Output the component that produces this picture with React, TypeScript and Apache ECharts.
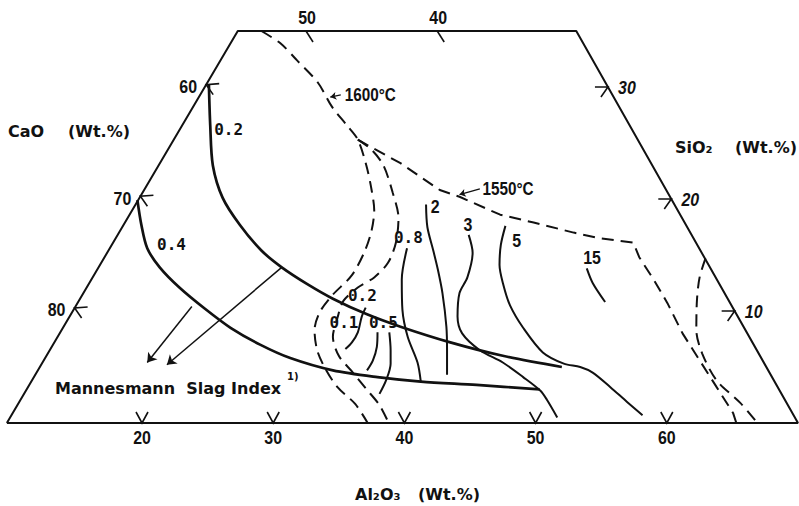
import React, { useEffect, useRef } from "react";
import * as echarts from "echarts";

type P = number[];

// All points are compositions: [Al2O3 wt%, SiO2 wt%] (CaO = 100 - Al2O3 - SiO2)
const frame: P[] = [[9.7, 0], [9.8, 35], [35.6, 35], [70, 0], [9.7, 0]];

const al2o3Ticks = [20, 30, 40, 50, 60];
const caoLeftTicks = [80, 70, 60];
const sio2Ticks = [10, 20, 30];
const caoTopTicks = [50, 40];

// Mannesmann slag index curves
const msi02: P[] = [[10.0, 30.2], [11.9, 26.6], [13.9, 23.0], [16.1, 20.1], [18.6, 17.7], [21.4, 15.4], [23.7, 13.9], [26.4, 12.4], [29.0, 11.1], [32.3, 9.7], [35.4, 8.6], [39.9, 7.2], [44.5, 6.0], [49.5, 5.0]];
const msi04: P[] = [[9.7, 19.9], [11.1, 17.7], [12.6, 15.6], [14.4, 13.9], [16.8, 12.1], [19.7, 10.2], [22.5, 8.5], [25.5, 7.0], [28.4, 5.8], [32.2, 4.7], [35.9, 4.1], [39.4, 3.7], [43.8, 3.4], [48.8, 3.0]];

// iso-lines (solid)
const iso08: P[] = [[32.4, 15.6], [33.4, 12.8], [34.8, 10.1], [36.4, 7.7], [38.3, 5.4], [39.4, 3.7]];
const iso2: P[] = [[31.9, 19.5], [33.0, 17.5], [34.5, 15.4], [35.7, 13.7], [37.1, 11.6], [38.9, 8.6], [40.0, 6.5], [41.1, 4.3]];
const iso3: P[] = [[36.5, 16.8], [37.6, 15.2], [38.3, 13.0], [38.4, 11.6], [39.3, 9.5], [40.4, 8.0], [42.5, 6.5], [44.8, 5.4], [47.0, 4.1], [48.9, 2.9], [49.8, 2.1], [51.4, 0.5]];
const iso5: P[] = [[38.9, 17.6], [39.4, 15.9], [40.2, 14.1], [41.4, 12.3], [42.8, 10.5], [44.8, 8.5], [47.4, 6.3], [49.5, 5.3], [50.9, 5.0], [52.1, 4.5], [54.1, 3.2], [56.0, 1.9], [57.8, 0.7]];
const iso15: P[] = [[47.0, 13.8], [48.1, 12.5], [49.9, 10.8]];
const iso01: P[] = [[31.9, 10.3], [32.0, 9.5], [32.4, 8.1], [32.4, 7.2], [32.2, 6.6]];
const iso02: P[] = [[33.9, 8.1], [34.5, 6.8], [34.8, 5.6], [34.8, 4.7]];
const iso05: P[] = [[34.8, 8.1], [35.7, 6.5], [36.3, 5.3], [36.7, 3.8], [36.8, 2.6]];

// liquidus boundaries (dashed)
const liq1600: P[] = [[11.6, 35], [13.6, 33.9], [15.6, 32.4], [18.2, 30.4], [20.4, 28.2], [22.3, 26.6], [23.8, 25.3], [25.6, 23.0], [27.1, 20.8], [28.2, 19.0], [28.9, 17.2], [29.3, 15.4], [29.4, 13.2], [28.8, 11.4], [28.6, 9.9], [29.0, 8.3], [30.1, 6.5], [31.5, 4.9], [33.3, 3.2], [35.4, 1.7], [37.2, 0]];
const liqInner: P[] = [[23.8, 25.3], [25.3, 24.4], [26.9, 23.0], [28.8, 20.6], [30.4, 18.3], [31.3, 16.1], [31.6, 14.3], [31.2, 13.0], [30.4, 12.1], [29.9, 10.9], [30.2, 9.4], [30.7, 7.7], [32.0, 6.0], [33.7, 4.6], [35.5, 3.1], [37.3, 1.6], [38.8, 0]];
const liq1550: P[] = [[23.8, 25.3], [25.0, 24.7], [28.1, 23.2], [32.3, 20.8], [34.1, 20.2], [38.0, 18.6], [40.9, 17.9], [44.4, 17.0], [46.6, 16.5], [49.4, 16.1], [50.5, 14.8], [52.6, 12.8], [54.7, 10.7], [57.2, 8.0], [59.7, 5.6], [62.2, 3.2], [64.6, 0.9], [65.3, 0]];
const liqRight: P[] = [[55.6, 14.7], [56.0, 13.0], [56.8, 11.0], [58.1, 8.3], [59.6, 6.2], [61.9, 3.8], [64.7, 1.8], [66.9, 0]];

// pointer arrows [from, to]
const msiArrows: P[][] = [[[18.6, 10.4], [17.7, 5.4]], [[23.7, 13.9], [19.3, 5.2]]];
const tempArrows: P[][] = [[[20.5, 29.3], [19.8, 29.1]], [[35.3, 20.9], [34.0, 20.4]]];

// annotation anchors
const indexLabels = [
  { t: "0.2", p: [13.5, 26.2] }, { t: "0.4", p: [14.3, 15.9] }, { t: "0.8", p: [32.0, 16.6] },
  { t: "0.2", p: [31.1, 11.4] }, { t: "0.1", p: [30.9, 9.0] }, { t: "0.5", p: [33.9, 9.0] },
];
const isoLabels = [
  { t: "2", p: [32.7, 19.3] }, { t: "3", p: [36.0, 17.7] }, { t: "5", p: [40.4, 16.3] }, { t: "15", p: [46.9, 14.8] },
];
const tempLabels = [{ t: "1600°C", p: [20.8, 29.3] }, { t: "1550°C", p: [35.5, 20.9] }];

const INK = "#111";
const toXY = (p: P) => [p[0] + p[1] / 2, p[1]];
const lerp = (p0: P, p1: P, t: number) => [p0[0] + (p1[0] - p0[0]) * t, p0[1] + (p1[1] - p0[1]) * t];
const atSum = (p0: P, p1: P, sum: number) => lerp(p0, p1, (sum - (p0[0] + p0[1])) / (p1[0] + p1[1] - (p0[0] + p0[1])));
const atSi = (p0: P, p1: P, s: number) => lerp(p0, p1, (s - p0[1]) / (p1[1] - p0[1]));

const NUM_FONT = '"Liberation Sans", Arial, sans-serif';
const MONO_FONT = '"DejaVu Sans Mono", "Liberation Mono", monospace';
const TITLE_FONT = '"DejaVu Sans", "Noto Sans", sans-serif';

function curve(data: P[], width: number, dashed: boolean, smooth: number | boolean) {
  return {
    type: "line", data: data.map(toXY), symbol: "none", smooth, silent: true, z: 3,
    lineStyle: { color: INK, width, type: dashed ? [12, 7] : "solid", cap: "butt" },
  };
}

function textSeries(items: { t: string; p: P }[], style: any, align = "center", scaleX = 1) {
  return {
    type: "custom", coordinateSystem: "cartesian2d", silent: true, z: 6,
    data: items.map((it) => toXY(it.p)),
    renderItem: (params: any, api: any) => {
      const c = api.coord([api.value(0), api.value(1)]);
      return {
        type: "text", x: c[0], y: c[1], scaleX,
        style: { text: items[params.dataIndex].t, fill: INK, align, verticalAlign: "middle", ...style },
      };
    },
  };
}

function tickSeries(points: P[], labels: string[], shape: number[][], off: number[], style: any) {
  return {
    type: "custom", coordinateSystem: "cartesian2d", silent: true, z: 5,
    data: points.map(toXY),
    renderItem: (params: any, api: any) => {
      const c = api.coord([api.value(0), api.value(1)]);
      return {
        type: "group",
        children: [
          { type: "polyline", shape: { points: shape.map(([dx, dy]) => [c[0] + dx, c[1] + dy]) }, style: { stroke: INK, lineWidth: 1.6, fill: "none" } },
          { type: "text", x: c[0] + off[0], y: c[1] + off[1], scaleX: 0.84, style: { text: labels[params.dataIndex], fill: INK, align: "center", verticalAlign: "middle", ...style } },
        ],
      };
    },
  };
}

const numStyle = { fontFamily: NUM_FONT, fontSize: 19, fontWeight: "bold" };

export default function App() {
  const ref = useRef<HTMLDivElement>(null);
  useEffect(() => {
    if (!ref.current) return;
    const chart = echarts.init(ref.current, null, { renderer: "svg" });
    const titleStyle = { fontFamily: TITLE_FONT, fontSize: 16, fontWeight: "bold", fill: INK, verticalAlign: "middle" };
    chart.setOption({
      animation: false,
      backgroundColor: "#fff",
      grid: { left: 0, right: 0, top: 0, bottom: 0 },
      xAxis: { type: "value", min: 120.4 / 13.12, max: 919.4 / 13.12, show: false },
      yAxis: { type: "value", min: -83 / 11.2, max: 423 / 11.2, show: false },
      graphic: [
        { type: "text", x: 8, y: 131, style: { text: "CaO", ...titleStyle } },
        { type: "text", x: 68, y: 131, style: { text: "(Wt.%)", ...titleStyle } },
        { type: "text", x: 675, y: 147, style: { text: "SiO₂", ...titleStyle } },
        { type: "text", x: 797, y: 147, style: { text: "(Wt.%)", ...titleStyle, align: "right" } },
        { type: "text", x: 355, y: 494, style: { text: "Al₂O₃", ...titleStyle } },
        { type: "text", x: 418, y: 494, style: { text: "(Wt.%)", ...titleStyle } },
        { type: "text", x: 55, y: 388, style: { text: "Mannesmann  Slag Index", ...titleStyle } },
        { type: "text", x: 287, y: 376, style: { text: "1)", ...titleStyle, fontSize: 10 } },
      ],
      series: [
        curve(frame, 2, false, false),
        curve(msi02, 2.7, false, 0.3),
        curve(msi04, 2.7, false, 0.3),
        curve(iso08, 2, false, 0.3),
        curve(iso2, 2, false, 0.3),
        curve(iso3, 2, false, 0.3),
        curve(iso5, 2, false, 0.3),
        curve(iso15, 2, false, 0.3),
        curve(iso01, 2, false, 0.3),
        curve(iso02, 2, false, 0.3),
        curve(iso05, 2, false, 0.3),
        curve(liq1600, 2, true, 0.3),
        curve(liqInner, 2, true, 0.3),
        curve(liq1550, 2, true, false),
        curve(liqRight, 2, true, 0.3),
        {
          type: "lines", coordinateSystem: "cartesian2d", silent: true, z: 4,
          symbol: ["none", "arrow"], symbolSize: 9,
          lineStyle: { color: INK, width: 1.5, opacity: 1 },
          data: msiArrows.map((a) => ({ coords: a.map(toXY) })),
        },
        {
          type: "lines", coordinateSystem: "cartesian2d", silent: true, z: 4,
          symbol: ["none", "arrow"], symbolSize: 6,
          lineStyle: { color: INK, width: 1.3, opacity: 1 },
          data: tempArrows.map((a) => ({ coords: a.map(toXY) })),
        },
        tickSeries(al2o3Ticks.map((a) => [a, 0]), al2o3Ticks.map(String), [[-6, -11], [0, 0], [6, -11]], [0, 15], numStyle),
        tickSeries(caoLeftTicks.map((c) => atSum(frame[0], frame[1], 100 - c)), caoLeftTicks.map(String), [[13, -1], [0, 0], [7, 10]], [-18, 2], numStyle),
        tickSeries(sio2Ticks.map((s) => atSi(frame[3], frame[2], s)), sio2Ticks.map(String), [[-13, 0], [0, 0], [-7, 10]], [19, 1], { ...numStyle, fontStyle: "italic" }),
        tickSeries(caoTopTicks.map((c) => atSum(frame[1], frame[2], 100 - c)), caoTopTicks.map(String), [[0, 0], [7, 11]], [1, -13], numStyle),
        textSeries(indexLabels, { fontFamily: MONO_FONT, fontSize: 16, fontWeight: "bold" }),
        textSeries(isoLabels, { fontFamily: NUM_FONT, fontSize: 19, fontWeight: "bold" }, "center", 0.84),
        textSeries(tempLabels, { fontFamily: NUM_FONT, fontSize: 18, fontWeight: "bold" }, "left", 0.85),
      ],
    });
    return () => chart.dispose();
  }, []);
  return <div ref={ref} style={{ position: "absolute", left: 0, top: 0, width: 799, height: 506, background: "#fff" }} />;
}
